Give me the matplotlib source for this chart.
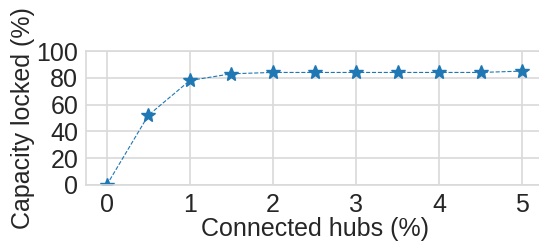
import matplotlib
matplotlib.use("Agg")
import matplotlib.pyplot as plt
import seaborn as sns

sns.set_style("whitegrid")
plt.rcParams['font.family'] = ['Liberation Sans', 'DejaVu Sans']

hubs = [0, 0.5, 1, 1.5, 2, 2.5, 3, 3.5, 4, 4.5, 5]
capacity = [0, 52, 78, 83, 84, 84, 84, 84, 84, 84, 85]

fig = plt.figure(figsize=(5.39, 2.46), dpi=100)
ax = fig.add_axes([86/539, 1-185/246, (543-86)/539, (185-51)/246])
ax.plot(hubs, capacity, linestyle='--', linewidth=0.8, marker='*', markersize=10, color='#1f77b4')
ax.set_xlim(-0.25, 5.25)
ax.set_ylim(0, 100)
ax.set_xticks([0, 1, 2, 3, 4, 5])
ax.set_yticks([0, 20, 40, 60, 80, 100])
ax.tick_params(labelsize=18, colors='#262626', pad=2)
ax.set_xlabel("Connected hubs (%)", fontsize=18, color='#262626', labelpad=0)
ax.set_ylabel("Capacity locked (%)", fontsize=18, color='#262626', labelpad=1)
ax.grid(color='#d9d9d9', linewidth=1.2)
for s in ax.spines.values():
    s.set_color('#d9d9d9')
    s.set_linewidth(1.2)
fig.savefig("out.png", dpi=100)
